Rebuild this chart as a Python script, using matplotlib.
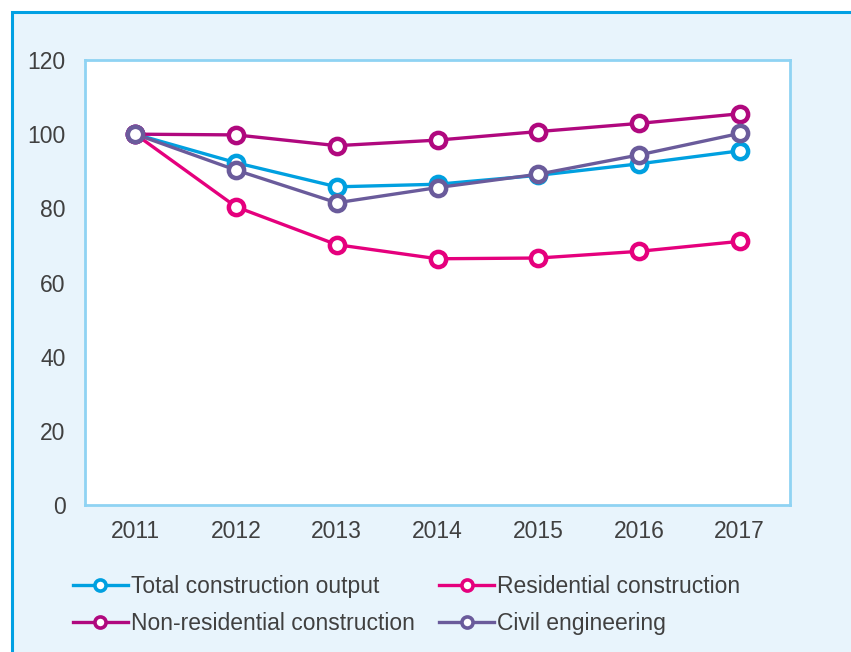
import matplotlib
matplotlib.use("Agg")
import matplotlib.pyplot as plt
from matplotlib.patches import Rectangle
from matplotlib.lines import Line2D

years = ["2011", "2012", "2013", "2014", "2015", "2016", "2017"]
total = [100, 92.3, 85.8, 86.5, 88.9, 92.0, 95.5]
residential = [100, 80.4, 70.2, 66.4, 66.6, 68.4, 71.1]
non_residential = [100, 99.8, 96.9, 98.4, 100.7, 102.9, 105.5]
civil = [100, 90.3, 81.5, 85.6, 89.2, 94.4, 100.2]
series_labels = ["Total construction output", "Residential construction",
                 "Non-residential construction", "Civil engineering"]
yticks = [0, 20, 40, 60, 80, 100, 120]

colors = ["#00A0E0", "#E5007D", "#B0087E", "#6A5B9B"]
plt.rcParams['font.family'] = ['Liberation Sans', 'DejaVu Sans']

fig = plt.figure(figsize=(8.51, 6.52), dpi=100)
fig.patch.set_facecolor("white")
W, H = 851, 652
bg = Rectangle((11.5 / W, -0.05), 1.0, 1 - 11.5 / H + 0.05, transform=fig.transFigure,
               facecolor="#E8F4FC", edgecolor="#00A0E3", linewidth=2.2, zorder=-10)
fig.patches.append(bg)

ax = fig.add_axes([85 / W, 1 - 505 / H, (790 - 85) / W, (505 - 60) / H])
ax.set_zorder(5)
ax.set_facecolor("white")
for s in ax.spines.values():
    s.set_color("#8FD3F3")
    s.set_linewidth(2)

x = list(range(len(years)))
data = [total, residential, non_residential, civil]
for i in [1, 0, 3, 2]:
    ax.plot(x, data[i], color=colors[i], lw=2.4, marker="o", ms=11,
            mfc="white", mec=colors[i], mew=3.2, zorder=3 + i)

ax.set_xlim(-0.5, len(years) - 0.5)
ax.set_ylim(0, 120)
ax.set_yticks(yticks)
ax.set_xticks(x)
ax.set_xticklabels(years)
ax.tick_params(axis="both", length=0, labelsize=16.5, labelcolor="#404040")
ax.tick_params(axis="y", pad=14)
ax.tick_params(axis="x", pad=11)

handles = [Line2D([0], [0], color=c, lw=2.4, marker="o", ms=8, mfc="white",
                  mec=c, mew=2.6) for c in colors]
idx = [0, 2, 1, 3]
leg = fig.legend([handles[i] for i in idx], [series_labels[i] for i in idx],
                 ncol=2, loc="upper left",
                 bbox_to_anchor=(52 / W, 1 - 554 / H), frameon=False,
                 fontsize=16.5, labelcolor="#404040", handlelength=2.4,
                 handletextpad=0.15, columnspacing=1.05, labelspacing=0.62)
leg.set_zorder(6)

fig.savefig("out.png", dpi=100)
